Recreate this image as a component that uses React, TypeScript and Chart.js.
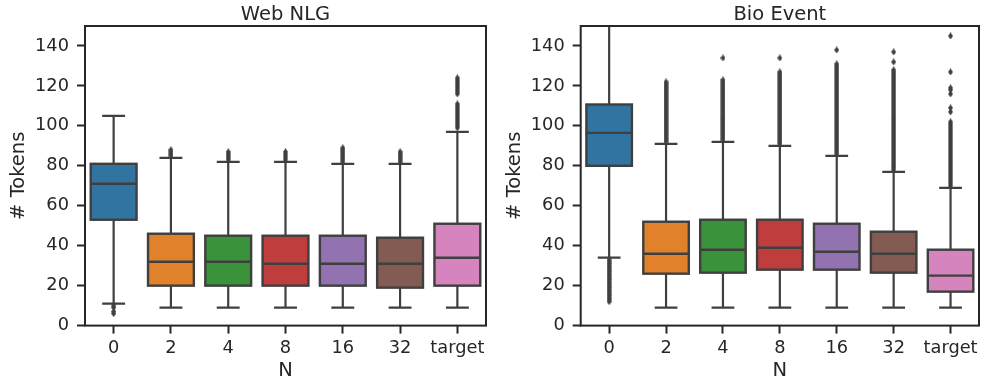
import React, { useEffect, useRef } from 'react';
import { Chart, registerables } from 'chart.js';

Chart.register(...registerables);

const CATEGORIES = ['0', '2', '4', '8', '16', '32', 'target'];
const Y_TICKS = [0, 20, 40, 60, 80, 100, 120, 140];
const COLORS = ['#3274a1', '#e1812c', '#3a923a', '#c03d3e', '#9372b2', '#845b53', '#d684bd'];

// Web NLG
const WEB_LOW = [11, 9, 9, 9, 9, 9, 9];
const WEB_Q1 = [53, 20, 20, 20, 20, 19, 20];
const WEB_MED = [71, 32, 32, 31, 31, 31, 34];
const WEB_Q3 = [81, 46, 45, 45, 45, 44, 51];
const WEB_HIGH = [105, 84, 82, 82, 81, 81, 97];
const WEB_OUT_0 = [6, 7, 9, 10];
const WEB_OUT_2 = [85, 86, 87, 88];
const WEB_OUT_4 = [83, 84, 85, 86, 87];
const WEB_OUT_8 = [83, 84, 85, 86, 87];
const WEB_OUT_16 = [82, 83, 84, 85, 86, 87, 88, 89];
const WEB_OUT_32 = [82, 83, 84, 85, 86, 87];
const WEB_OUT_T = [99, 100, 101, 102, 103, 104, 105, 106, 107, 108, 109, 110, 111, 116, 117, 118, 119, 120, 121, 122, 123, 124];

// Bio Event
const BIO_LOW = [34, 9, 9, 9, 9, 9, 9];
const BIO_Q1 = [80, 26, 26.5, 28, 28, 26.5, 17];
const BIO_MED = [96.5, 36, 38, 39, 37, 36, 25];
const BIO_Q3 = [110.7, 52, 53, 53, 51, 47, 38];
const BIO_HIGH = [156, 91, 92, 90, 85, 77, 69];
const BIO_OUT_0 = [12, 13, 14, 15, 16, 17, 18, 19, 20, 21, 22, 23, 24, 25, 26, 27, 28, 29, 30, 31, 32, 33];
const BIO_OUT_2 = [92, 93, 94, 95, 96, 97, 98, 99, 100, 101, 102, 103, 104, 105, 106, 107, 108, 109, 110, 111, 112, 113, 114, 115, 116, 117, 118, 119, 120, 121, 122];
const BIO_OUT_4 = [93, 94, 95, 96, 97, 98, 99, 100, 101, 102, 103, 104, 105, 106, 107, 108, 109, 110, 111, 112, 113, 114, 115, 116, 117, 118, 119, 120, 121, 122, 123, 134];
const BIO_OUT_8 = [91, 92, 93, 94, 95, 96, 97, 98, 99, 100, 101, 102, 103, 104, 105, 106, 107, 108, 109, 110, 111, 112, 113, 114, 115, 116, 117, 118, 119, 120, 121, 122, 123, 124, 125, 126, 127, 134];
const BIO_OUT_16 = [86, 87, 88, 89, 90, 91, 92, 93, 94, 95, 96, 97, 98, 99, 100, 101, 102, 103, 104, 105, 106, 107, 108, 109, 110, 111, 112, 113, 114, 115, 116, 117, 118, 119, 120, 121, 122, 123, 124, 125, 126, 127, 128, 129, 130, 131, 138];
const BIO_OUT_32 = [78, 79, 80, 81, 82, 83, 84, 85, 86, 87, 88, 89, 90, 91, 92, 93, 94, 95, 96, 97, 98, 99, 100, 101, 102, 103, 104, 105, 106, 107, 108, 109, 110, 111, 112, 113, 114, 115, 116, 117, 118, 119, 120, 121, 122, 123, 124, 125, 126, 127, 128, 132, 137];
const BIO_OUT_T = [70, 71, 72, 73, 74, 75, 76, 77, 78, 79, 80, 81, 82, 83, 84, 85, 86, 87, 88, 89, 90, 91, 92, 93, 94, 95, 96, 97, 98, 99, 100, 101, 102, 107, 109, 116, 118, 119, 127, 145];

const TEXT = '#262626';
const LINE = '#3f3f3f';
const FONT = "'DejaVu Sans', sans-serif";

type Props = {
  title: string;
  low: number[];
  q1: number[];
  med: number[];
  q3: number[];
  high: number[];
  outliers: number[][];
  left: number;
  width: number;
  yAxisWidth: number;
  rightPad: number;
  yTitlePad: number;
};

function makeDiamond(): HTMLCanvasElement {
  const c = document.createElement('canvas');
  c.width = 5;
  c.height = 7;
  const g = c.getContext('2d')!;
  g.fillStyle = LINE;
  g.beginPath();
  g.moveTo(2.5, 0);
  g.lineTo(5, 3.5);
  g.lineTo(2.5, 7);
  g.lineTo(0, 3.5);
  g.closePath();
  g.fill();
  return c;
}

function BoxChart(p: Props) {
  const ref = useRef<HTMLCanvasElement | null>(null);
  useEffect(() => {
    if (!ref.current) return;
    const diamond = makeDiamond();
    const pts: { x: string; y: number }[] = [];
    p.outliers.forEach((arr, i) => arr.forEach((v) => pts.push({ x: CATEGORIES[i], y: v })));

    const boxParts = {
      id: 'boxParts',
      beforeDatasetsDraw(chart: any) {
        const ctx = chart.ctx;
        const ys = chart.scales.y;
        const meta = chart.getDatasetMeta(0);
        const a = chart.chartArea;
        ctx.save();
        ctx.beginPath();
        ctx.rect(a.left, a.top, a.right - a.left, a.bottom - a.top);
        ctx.clip();
        ctx.strokeStyle = LINE;
        ctx.lineWidth = 2.2;
        meta.data.forEach((bar: any, i: number) => {
          const x = bar.x;
          const cap = bar.width / 4;
          const yl = ys.getPixelForValue(p.low[i]);
          const y1 = ys.getPixelForValue(p.q1[i]);
          const y3 = ys.getPixelForValue(p.q3[i]);
          const yh = ys.getPixelForValue(p.high[i]);
          ctx.beginPath();
          ctx.moveTo(x, yl);
          ctx.lineTo(x, y1);
          ctx.moveTo(x, y3);
          ctx.lineTo(x, yh);
          ctx.moveTo(x - cap, yl);
          ctx.lineTo(x + cap, yl);
          ctx.moveTo(x - cap, yh);
          ctx.lineTo(x + cap, yh);
          ctx.stroke();
        });
        ctx.restore();
      },
      afterDatasetDraw(chart: any, args: any) {
        if (args.index !== 0) return;
        const ctx = chart.ctx;
        const ys = chart.scales.y;
        const meta = chart.getDatasetMeta(0);
        ctx.save();
        ctx.strokeStyle = LINE;
        ctx.lineWidth = 2.4;
        meta.data.forEach((bar: any, i: number) => {
          const y1 = ys.getPixelForValue(p.q1[i]);
          const y3 = ys.getPixelForValue(p.q3[i]);
          ctx.strokeRect(bar.x - bar.width / 2, y3, bar.width, y1 - y3);
          const y = ys.getPixelForValue(p.med[i]);
          ctx.beginPath();
          ctx.moveTo(bar.x - bar.width / 2, y);
          ctx.lineTo(bar.x + bar.width / 2, y);
          ctx.stroke();
        });
        ctx.restore();
      },
      afterDraw(chart: any) {
        const ctx = chart.ctx;
        const a = chart.chartArea;
        ctx.save();
        ctx.strokeStyle = TEXT;
        ctx.lineWidth = 2;
        ctx.strokeRect(a.left, a.top, a.right - a.left, a.bottom - a.top);
        ctx.fillStyle = TEXT;
        ctx.font = `19.5px ${FONT}`;
        ctx.textAlign = 'center';
        ctx.textBaseline = 'alphabetic';
        ctx.fillText(p.title, (a.left + a.right) / 2, 20);
        ctx.restore();
      },
    };

    const chart = new Chart(ref.current, {
      type: 'bar',
      data: {
        labels: CATEGORIES,
        datasets: [
          {
            type: 'bar',
            data: p.q1.map((v, i) => [v, p.q3[i]]) as any,
            backgroundColor: COLORS,
            borderWidth: 0,
            borderSkipped: false,
            barPercentage: 0.8,
            categoryPercentage: 1.0,
          } as any,
          {
            type: 'scatter',
            data: pts,
            pointStyle: diamond,
            pointRadius: 3,
            backgroundColor: LINE,
            borderWidth: 0,
          } as any,
        ],
      },
      options: {
        animation: false,
        responsive: false,
        devicePixelRatio: 1,
        events: [],
        layout: { padding: { top: 26, right: p.rightPad, left: 0, bottom: 0 } },
        plugins: { legend: { display: false }, tooltip: { enabled: false }, title: { display: false } },
        scales: {
          x: {
            type: 'category',
            offset: true,
            afterFit: (s: any) => {
              s.height = 59.4;
            },
            grid: { display: true, offset: false, drawOnChartArea: false, drawTicks: true, tickLength: 8, tickWidth: 2, tickColor: TEXT },
            border: { display: false },
            ticks: { font: { family: FONT, size: 17.8 }, color: TEXT, padding: 4, autoSkip: false, maxRotation: 0 },
            title: { display: true, text: 'N', font: { family: FONT, size: 19.5 }, color: TEXT, padding: { top: 0, bottom: 2.3 } },
          },
          y: {
            type: 'linear',
            min: 0,
            max: 150,
            afterFit: (s: any) => {
              s.width = p.yAxisWidth;
            },
            afterBuildTicks: (s: any) => {
              s.ticks = Y_TICKS.map((v) => ({ value: v }));
            },
            grid: { display: true, drawOnChartArea: false, drawTicks: true, tickLength: 8, tickWidth: 2, tickColor: TEXT },
            border: { display: false },
            ticks: { font: { family: FONT, size: 17.8 }, color: TEXT, padding: 8 },
            title: { display: true, text: '# Tokens', font: { family: FONT, size: 19.5 }, color: TEXT, padding: { top: p.yTitlePad, bottom: 0 } },
          },
        },
      } as any,
      plugins: [boxParts as any],
    });
    return () => chart.destroy();
  }, []);
  return (
    <div style={{ position: 'absolute', left: p.left, top: 0, width: p.width, height: 385 }}>
      <canvas ref={ref} width={p.width} height={385} style={{ width: p.width, height: 385, display: 'block' }} />
    </div>
  );
}

export default function App() {
  return (
    <div style={{ position: 'fixed', left: 0, top: 0, width: 983, height: 385, background: '#fff', overflow: 'hidden' }}>
      <BoxChart
        title="Web NLG"
        low={WEB_LOW}
        q1={WEB_Q1}
        med={WEB_MED}
        q3={WEB_Q3}
        high={WEB_HIGH}
        outliers={[WEB_OUT_0, WEB_OUT_2, WEB_OUT_4, WEB_OUT_8, WEB_OUT_16, WEB_OUT_32, WEB_OUT_T]}
        left={0}
        width={490}
        yAxisWidth={85}
        rightPad={3}
        yTitlePad={6.8}
      />
      <BoxChart
        title="Bio Event"
        low={BIO_LOW}
        q1={BIO_Q1}
        med={BIO_MED}
        q3={BIO_Q3}
        high={BIO_HIGH}
        outliers={[BIO_OUT_0, BIO_OUT_2, BIO_OUT_4, BIO_OUT_8, BIO_OUT_16, BIO_OUT_32, BIO_OUT_T]}
        left={490}
        width={493}
        yAxisWidth={90.7}
        rightPad={1}
        yTitlePad={13.3}
      />
    </div>
  );
}
